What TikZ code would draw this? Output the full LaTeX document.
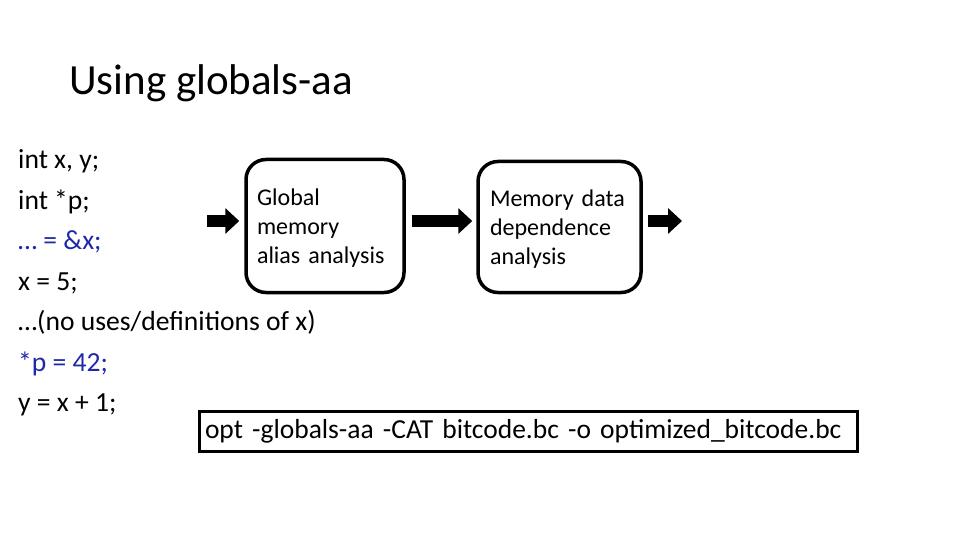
\documentclass[tikz,border=0pt]{standalone}
\usepackage{fontspec}
\setmainfont{Carlito}
\usetikzlibrary{arrows.meta}
\definecolor{codeblue}{RGB}{32,40,170}
\begin{document}
\begin{tikzpicture}[x=1pt,y=-1pt,
  codeline/.style={anchor=base west, inner sep=0pt, font=\fontsize{27.6}{34}\selectfont},
  stage/.style={draw, line width=3.5pt, rounded corners=20pt, align=left,
    font=\fontsize{24}{29}\selectfont, inner xsep=10pt, inner ysep=0pt},
  blockarrow/.style={line width=12pt, -{Triangle[length=14pt,width=25pt]}}]
\useasboundingbox (0,0) rectangle (960,540);
\node[anchor=base west, inner sep=0pt, font=\fontsize{43}{50}\selectfont] (title) at (69,95) {Using globals-aa};
\node[codeline] (l1) at (18,168) {int x, y;};
\node[codeline] (l2) at (18,209) {int *p;};
\node[codeline, text=codeblue] (l3) at (18,249) {… = \&x;};
\node[codeline] (l4) at (18,290) {x = 5;};
\node[codeline] (l5) at (18,330) {…(no uses/definitions of x)};
\node[codeline, text=codeblue] (l6) at (18,371) {*p = 42;};
\node[codeline] (l7) at (18,411) {y = x + 1;};
\node[stage, minimum width=158pt, minimum height=133pt, text width=136pt] (gma) at (325,226) {\strut Global\\memory\\alias analysis};
\node[stage, minimum width=163pt, minimum height=131pt, text width=139pt] (mdd) at (559.5,227) {\strut Memory data\\dependence\\analysis};
\coordinate (in) at (207,221);
\coordinate (out) at (682,221);
\draw[blockarrow] (in) -- ([xshift=-5pt]gma.west |- in);
\draw[blockarrow] ([xshift=6pt]gma.east |- in) -- ([xshift=-4pt]mdd.west |- in);
\draw[blockarrow] ([xshift=5pt]mdd.east |- out) -- (out);
\node[draw, line width=3pt, anchor=west, inner xsep=6pt, inner ysep=0pt, minimum height=40pt,
  text width=646pt, align=left, font=\fontsize{27.5}{32}\selectfont] (cmd) at (197.5,431)
  {opt -globals-aa -CAT bitcode.bc -o optimized\_bitcode.bc};
\end{tikzpicture}
\end{document}
